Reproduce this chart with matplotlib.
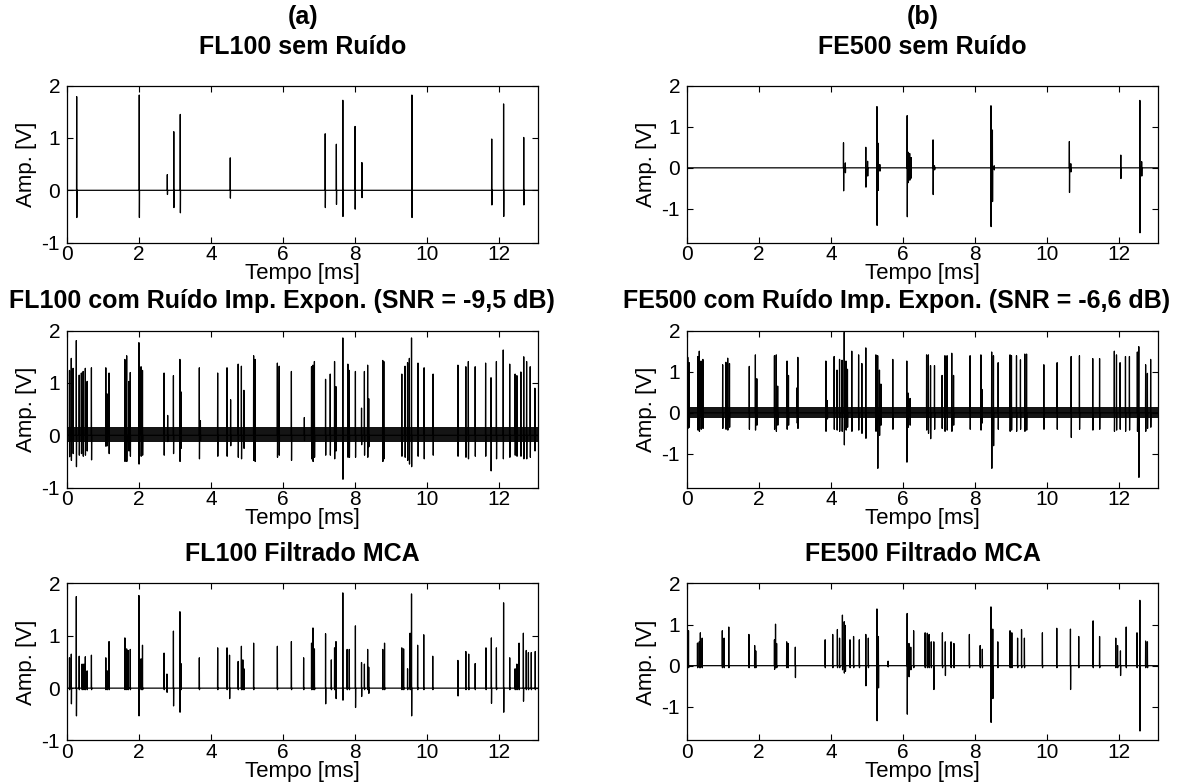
import numpy as np
import matplotlib
matplotlib.use("Agg")
import matplotlib.pyplot as plt

plt.rcParams['font.family'] = ['Liberation Sans', 'DejaVu Sans']
plt.rcParams['axes.unicode_minus'] = False

T_MAX = 13.1072  # ms
X_TICKS = [0, 2, 4, 6, 8, 10, 12]
Y_TICKS = [-1, 0, 1, 2]

# ---------------- (a) FL100 sem ruído ----------------
fl100_clean_t = [0.27, 2.01, 2.79, 2.97, 3.15, 4.54, 7.18, 7.49, 7.67, 8.01, 8.20, 9.59, 11.81, 12.14, 12.70]
fl100_clean_pos = [1.79, 1.82, 0.30, 1.12, 1.45, 0.62, 1.08, 0.88, 1.72, 1.22, 0.53, 1.82, 0.98, 1.65, 1.01]
fl100_clean_neg = [-0.52, -0.52, -0.08, -0.33, -0.43, -0.15, -0.33, -0.27, -0.50, -0.36, -0.14, -0.52, -0.28, -0.50, -0.28]

# ---------------- (a) FL100 com ruído ----------------
fl100_noisy_t = [0.07, 0.12, 0.17, 0.26, 0.34, 0.40, 0.45, 0.51, 0.56, 0.68,
                 1.08, 1.12, 1.17, 1.61, 1.66, 1.72, 1.76, 2.00, 2.06, 2.10,
                 2.70, 2.80, 2.96, 3.14, 3.17, 3.68, 3.71, 4.19, 4.45, 4.55,
                 4.76, 4.85, 4.92, 5.19, 5.23, 5.85, 5.90, 6.24, 6.60, 6.80,
                 6.84, 6.88, 7.19, 7.32, 7.44, 7.48, 7.67, 7.81, 7.85, 8.02,
                 8.19, 8.27, 8.36, 8.39, 8.78, 8.81, 9.31, 9.40, 9.47, 9.52,
                 9.58, 9.76, 9.93, 10.18, 10.87, 11.09, 11.16, 11.35, 11.64, 11.79,
                 11.94, 12.13, 12.31, 12.46, 12.51, 12.62, 12.70, 12.78, 12.88, 13.01]
fl100_noisy_pos = [1.24, 1.47, 1.28, 1.81, 1.15, 1.19, 1.22, 1.28, 1.03, 1.29,
                   1.29, 0.79, 1.19, 1.45, 1.52, 1.03, 1.20, 1.77, 1.31, 1.24,
                   1.19, 0.38, 1.14, 1.45, 0.83, 1.29, 0.28, 1.19, 1.29, 0.68,
                   1.36, 1.32, 0.86, 1.52, 1.45, 1.38, 1.32, 1.22, 0.34, 1.31,
                   1.34, 1.41, 1.07, 1.17, 1.41, 0.93, 1.86, 1.36, 1.24, 1.22,
                   0.52, 1.22, 1.34, 0.70, 1.43, 1.41, 1.17, 1.32, 1.39, 1.47,
                   1.86, 1.38, 1.29, 1.17, 1.34, 1.31, 1.41, 1.31, 1.38, 1.10,
                   1.41, 1.63, 1.36, 1.17, 1.14, 1.21, 1.50, 1.41, 1.31, 0.90]
fl100_noisy_neg = [-0.41, -0.48, -0.35, -0.60, -0.38, -0.35, -0.40, -0.38, -0.30, -0.47,
                   -0.21, -0.20, -0.35, -0.50, -0.50, -0.30, -0.40, -0.55, -0.40, -0.38,
                   -0.38, -0.12, -0.35, -0.50, -0.25, -0.45, -0.10, -0.40, -0.40, -0.20,
                   -0.42, -0.45, -0.25, -0.48, -0.50, -0.42, -0.38, -0.48, -0.10, -0.45,
                   -0.50, -0.42, -0.38, -0.38, -0.45, -0.30, -0.84, -0.42, -0.42, -0.42,
                   -0.18, -0.38, -0.42, -0.22, -0.50, -0.45, -0.40, -0.42, -0.48, -0.55,
                   -0.60, -0.40, -0.45, -0.38, -0.40, -0.42, -0.45, -0.40, -0.40, -0.68,
                   -0.45, -0.45, -0.42, -0.38, -0.40, -0.40, -0.45, -0.45, -0.42, -0.30]
fl100_noise_band = [-0.13, 0.15]

# ---------------- (a) FL100 filtrado MCA ----------------
fl100_filt_t = [0.07, 0.12, 0.26, 0.34, 0.42, 0.47, 0.51, 0.56, 0.68, 1.08,
                1.12, 1.17, 1.61, 1.66, 1.70, 1.76, 2.00, 2.06, 2.10, 2.70,
                2.78, 2.96, 3.14, 3.17, 3.68, 4.19, 4.45, 4.52, 4.76, 4.85,
                4.89, 4.92, 5.19, 5.85, 6.24, 6.58, 6.80, 6.84, 6.88, 7.19,
                7.35, 7.44, 7.48, 7.67, 7.79, 7.85, 8.02, 8.19, 8.27, 8.36,
                8.39, 8.78, 8.83, 9.31, 9.36, 9.47, 9.54, 9.58, 9.75, 9.92,
                10.17, 10.87, 11.09, 11.17, 11.35, 11.65, 11.80, 11.94, 12.14, 12.31,
                12.46, 12.51, 12.57, 12.69, 12.77, 12.83, 12.91, 13.02]
fl100_filt_pos = [0.58, 0.65, 1.75, 0.61, 0.46, 0.46, 0.60, 0.33, 0.63, 0.58,
                  0.33, 0.89, 0.96, 0.75, 0.72, 0.74, 1.77, 0.56, 0.82, 0.67,
                  0.27, 1.09, 1.46, 0.47, 0.58, 0.77, 0.77, 0.63, 0.51, 0.80,
                  0.54, 0.37, 0.86, 0.80, 0.89, 0.58, 0.86, 1.15, 0.75, 1.04,
                  0.54, 0.77, 0.89, 1.82, 0.74, 0.74, 1.19, 0.49, 0.46, 0.74,
                  0.40, 0.74, 0.86, 0.77, 0.75, 0.37, 1.05, 1.80, 0.82, 1.02,
                  0.61, 0.53, 0.70, 0.65, 0.47, 0.77, 0.96, 0.77, 1.63, 0.58,
                  0.37, 0.46, 0.86, 1.05, 0.72, 0.68, 0.68, 0.70]
fl100_filt_neg = [-0.03, -0.30, -0.53, -0.03, -0.03, -0.03, -0.03, -0.03, -0.03, -0.03,
                  -0.03, -0.03, -0.03, -0.03, -0.03, -0.03, -0.53, -0.03, -0.03, -0.03,
                  -0.08, -0.34, -0.46, -0.03, -0.03, -0.03, -0.03, -0.20, -0.03, -0.03,
                  -0.03, -0.03, -0.03, -0.03, -0.03, -0.03, -0.03, -0.03, -0.03, -0.30,
                  -0.03, -0.03, -0.20, -0.23, -0.03, -0.03, -0.37, -0.16, -0.03, -0.03,
                  -0.10, -0.03, -0.03, -0.03, -0.03, -0.03, -0.03, -0.53, -0.03, -0.03,
                  -0.03, -0.15, -0.03, -0.03, -0.03, -0.03, -0.29, -0.03, -0.46, -0.03,
                  -0.03, -0.03, -0.03, -0.25, -0.03, -0.03, -0.03, -0.03]

# ---------------- (b) FE500 sem ruído ----------------
fe500_clean_t = [4.35, 4.40, 4.97, 5.02, 5.28, 5.31, 5.36, 6.12, 6.15, 6.19,
                 6.23, 6.84, 6.88, 8.45, 8.49, 8.54, 10.63, 10.67, 12.06, 12.59, 12.64]
fe500_clean_pos = [0.61, 0.12, 0.50, 0.16, 1.49, 0.60, 0.08, 1.27, 0.38, 0.35,
                   0.25, 0.68, 0.05, 1.51, 0.92, 0.05, 0.64, 0.10, 0.31, 1.64, 0.15]
fe500_clean_neg = [-0.56, -0.12, -0.47, -0.20, -1.40, -0.55, -0.08, -1.19, -0.36, -0.30,
                   -0.25, -0.65, -0.05, -1.43, -0.82, -0.05, -0.60, -0.10, -0.26, -1.58, -0.20]

# ---------------- (b) FE500 com ruído ----------------
fe500_noisy_t = [0.02, 0.06, 0.30, 0.34, 0.39, 0.44, 0.99, 1.08, 1.13, 1.18,
                 1.73, 1.90, 1.94, 2.43, 2.48, 2.52, 2.78, 2.82, 3.06, 3.08,
                 3.86, 3.90, 4.09, 4.17, 4.24, 4.31, 4.37, 4.42, 4.46, 4.58,
                 4.77, 4.86, 4.97, 5.25, 5.30, 5.35, 5.39, 5.72, 6.11, 6.15,
                 6.20, 6.66, 6.71, 6.77, 6.88, 7.09, 7.17, 7.23, 7.36, 7.41,
                 7.87, 8.17, 8.20, 8.47, 8.52, 8.65, 8.98, 9.02, 9.16, 9.27,
                 9.39, 9.44, 9.92, 10.29, 10.68, 10.91, 11.28, 11.47, 11.88, 11.94,
                 12.04, 12.19, 12.30, 12.52, 12.56, 12.75, 12.80, 12.89]
fe500_noisy_pos = [1.35, 1.22, 1.37, 1.50, 1.26, 1.30, 1.17, 1.23, 1.33, 1.20,
                   1.13, 1.41, 0.83, 1.39, 1.41, 0.65, 1.26, 0.91, 0.61, 1.35,
                   1.26, 0.30, 1.37, 1.04, 1.30, 1.28, 1.96, 1.26, 1.06, 1.50,
                   1.41, 1.20, 1.58, 1.41, 1.39, 1.04, 0.70, 1.30, 1.26, 0.48,
                   0.35, 1.41, 1.41, 1.15, 1.15, 0.91, 1.39, 1.39, 1.45, 0.91,
                   1.39, 1.41, 0.57, 1.48, 1.39, 1.22, 1.41, 1.39, 1.39, 1.29,
                   1.43, 1.43, 1.17, 1.22, 1.37, 1.39, 1.32, 1.32, 1.50, 1.41,
                   1.22, 1.37, 1.37, 1.48, 1.61, 1.17, 0.96, 1.30]
fe500_noisy_neg = [-0.38, -0.35, -0.42, -0.45, -0.40, -0.38, -0.38, -0.40, -0.42, -0.35,
                   -0.40, -0.42, -0.30, -0.40, -0.45, -0.30, -0.40, -0.30, -0.25, -0.38,
                   -0.45, -0.15, -0.40, -0.42, -0.45, -0.45, -0.78, -0.42, -0.35, -0.45,
                   -0.42, -0.50, -0.62, -0.45, -1.35, -0.55, -0.30, -0.40, -1.20, -0.35,
                   -0.30, -0.42, -0.50, -0.63, -0.40, -0.38, -0.45, -0.42, -0.45, -0.30,
                   -0.40, -0.42, -0.25, -1.35, -0.80, -0.40, -0.45, -0.42, -0.45, -0.40,
                   -0.45, -0.42, -0.40, -0.40, -0.60, -0.40, -0.42, -0.40, -0.45, -0.42,
                   -0.40, -0.45, -0.42, -0.45, -1.57, -0.45, -0.38, -0.35]
fe500_noise_band = [-0.13, 0.13]

# ---------------- (b) FE500 filtrado MCA ----------------
fe500_filt_t = [0.01, 0.04, 0.29, 0.34, 0.37, 0.42, 0.98, 1.03, 1.16, 1.72,
                1.88, 1.91, 2.43, 2.46, 2.49, 2.77, 2.81, 3.01, 3.84, 4.05,
                4.18, 4.24, 4.32, 4.37, 4.40, 4.53, 4.63, 4.79, 4.97, 5.04,
                5.28, 5.32, 5.59, 6.12, 6.17, 6.22, 6.30, 6.62, 6.68, 6.73,
                6.79, 6.86, 7.10, 7.18, 7.34, 7.42, 7.85, 8.15, 8.21, 8.45,
                8.50, 8.64, 8.98, 9.03, 9.19, 9.30, 9.38, 9.88, 10.28, 10.66,
                10.89, 11.29, 11.47, 11.92, 11.97, 12.05, 12.21, 12.51, 12.59, 12.75,
                12.80]
fe500_filt_pos = [0.71, 0.85, 0.55, 0.58, 0.80, 0.67, 0.85, 0.67, 0.94, 0.76,
                  0.49, 0.36, 0.63, 1.01, 0.54, 0.58, 0.54, 0.45, 0.63, 0.76,
                  0.88, 0.67, 1.23, 1.07, 0.98, 0.63, 0.71, 0.63, 0.76, 0.67,
                  1.38, 0.71, 0.11, 1.27, 0.54, 0.45, 0.85, 0.80, 0.79, 0.76,
                  0.58, 0.58, 0.80, 0.58, 0.58, 0.54, 0.76, 0.49, 0.40, 1.43,
                  0.89, 0.58, 0.85, 0.80, 0.67, 0.88, 0.67, 0.80, 0.91, 0.89,
                  0.71, 1.09, 0.71, 0.67, 0.49, 0.36, 0.94, 0.80, 1.59, 0.60,
                  0.58]
fe500_filt_neg = [-0.05, -0.05, -0.05, -0.05, -0.05, -0.05, -0.05, -0.05, -0.05, -0.05,
                  -0.05, -0.05, -0.09, -0.05, -0.05, -0.05, -0.05, -0.29, -0.05, -0.05,
                  -0.05, -0.05, -0.10, -0.18, -0.14, -0.05, -0.05, -0.05, -0.49, -0.05,
                  -1.34, -0.54, -0.03, -1.18, -0.27, -0.10, -0.05, -0.05, -0.05, -0.05,
                  -0.05, -0.58, -0.05, -0.24, -0.05, -0.05, -0.05, -0.05, -0.05, -1.38,
                  -0.80, -0.05, -0.05, -0.05, -0.05, -0.05, -0.05, -0.05, -0.05, -0.58,
                  -0.05, -0.05, -0.05, -0.05, -0.05, -0.24, -0.05, -0.05, -1.59, -0.05,
                  -0.05]

col_tags = ['(a)', '(b)']
titles = [
    'FL100 sem Ruído', 'FE500 sem Ruído',
    'FL100 com Ruído Imp. Expon. (SNR = -9,5 dB)', 'FE500 com Ruído Imp. Expon. (SNR = -6,6 dB)',
    'FL100 Filtrado MCA', 'FE500 Filtrado MCA',
]


def spike_trace(t, pos, neg, w=0.004):
    xs, ys = [0.0], [0.0]
    for ti, p, n in sorted(zip(t, pos, neg, strict=True)):
        xs += [ti - w, ti, ti + w, ti + 2 * w]
        ys += [0.0, p, n, 0.0]
    xs.append(T_MAX)
    ys.append(0.0)
    return np.array(xs), np.array(ys)


panels = [
    (fl100_clean_t, fl100_clean_pos, fl100_clean_neg, None, (-1, 2)),
    (fe500_clean_t, fe500_clean_pos, fe500_clean_neg, None, (-1.82, 2)),
    (fl100_noisy_t, fl100_noisy_pos, fl100_noisy_neg, fl100_noise_band, (-1, 2)),
    (fe500_noisy_t, fe500_noisy_pos, fe500_noisy_neg, fe500_noise_band, (-1.82, 2)),
    (fl100_filt_t, fl100_filt_pos, fl100_filt_neg, None, (-1, 2)),
    (fe500_filt_t, fe500_filt_pos, fe500_filt_neg, None, (-1.82, 2)),
]

fig = plt.figure(figsize=(11.98, 7.84), dpi=100)

col_left = [0.0559, 0.5735]
col_width = 0.3935
row_bottom = [0.6905, 0.378, 0.0555]
row_height = 0.2003
title_x = [0.5, 0.5, 0.455, 0.445, 0.5, 0.5]
title_pad = [23, 23, 16, 16, 16, 16]

for k, (t, pos, neg, band, ylim) in enumerate(panels):
    r, c = divmod(k, 2)
    ax = fig.add_axes([col_left[c], row_bottom[r], col_width, row_height])
    if band is not None:
        ax.fill_between([0, T_MAX], band[0], band[1], color='#151515', lw=0)
    xs, ys = spike_trace(t, pos, neg)
    ax.plot(xs, ys, color='black', lw=0.9)
    ax.set_xlim(0, T_MAX)
    ax.set_ylim(*ylim)
    ax.set_xticks(X_TICKS)
    ax.set_yticks(Y_TICKS)
    ax.tick_params(direction='in', top=True, right=True, length=4, width=0.8, labelsize=15)
    ax.tick_params(axis='x', pad=2)
    ax.tick_params(axis='y', pad=5)
    for s in ax.spines.values():
        s.set_linewidth(0.9)
    ax.set_xlabel('Tempo [ms]', fontsize=16, labelpad=-1)
    ax.set_ylabel('Amp. [V]', fontsize=16, labelpad=3)
    ax.set_title(titles[k], fontsize=18, fontweight='bold', pad=title_pad[k], x=title_x[k])
    if r == 0:
        fig.text(col_left[c] + col_width / 2, 1 - 17 / 784, col_tags[c],
                 fontsize=18, fontweight='bold', ha='center', va='center')

plt.savefig('out.png', dpi=100)
